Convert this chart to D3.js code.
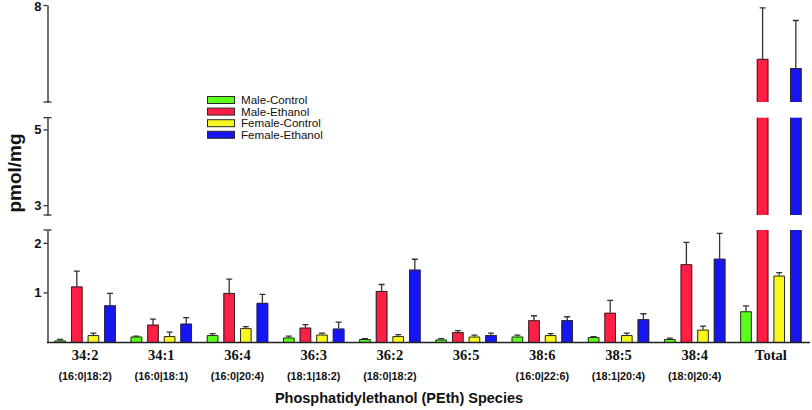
<!DOCTYPE html>
<html><head><meta charset="utf-8">
<script src="https://cdn.jsdelivr.net/npm/d3@7"></script>
<style>body{margin:0;background:#fff}svg{display:block}</style>
</head><body><svg id="c" width="812" height="410"></svg>
<script>
const categories = ["34:2","34:1","36:4","36:3","36:2","36:5","38:6","38:5","38:4","Total"];
const subLabels = ["(16:0|18:2)","(16:0|18:1)","(16:0|20:4)","(18:1|18:2)","(18:0|18:2)","","(16:0|22:6)","(18:1|20:4)","(18:0|20:4)",""];
const seriesNames = ["Male-Control","Male-Ethanol","Female-Control","Female-Ethanol"];
const maleControl = [0.03,0.11,0.14,0.09,0.06,0.05,0.11,0.10,0.06,0.62];
const maleControlSem = [0.02,0.01,0.03,0.03,0.01,0.02,0.03,0.01,0.02,0.11];
const maleEthanol = [1.12,0.35,0.99,0.29,1.03,0.20,0.44,0.59,1.57,6.89];
const maleEthanolSem = [0.31,0.11,0.28,0.06,0.13,0.03,0.09,0.25,0.44,1.05];
const femaleControl = [0.14,0.12,0.28,0.15,0.12,0.11,0.14,0.14,0.25,1.34];
const femaleControlSem = [0.04,0.08,0.03,0.03,0.03,0.03,0.03,0.04,0.07,0.06];
const femaleEthanol = [0.74,0.37,0.79,0.27,1.46,0.14,0.44,0.46,1.68,6.70];
const femaleEthanolSem = [0.24,0.12,0.17,0.13,0.21,0.04,0.07,0.11,0.51,0.98];
const colors = ["#5cff1c","#ff1f44","#f8f820","#1616f5"];
const yTicksTop = [8], yTicksMid = [3,5], yTicksBot = [1,2];

const values = [maleControl, maleEthanol, femaleControl, femaleEthanol];
const sems = [maleControlSem, maleEthanolSem, femaleControlSem, femaleEthanolSem];

const svg = d3.select("#c");
const axisX = 47.5, baseY = 342;
const x0 = d3.scaleBand().domain(categories).range([47, 809]).paddingInner(0.15).paddingOuter(0.075);
const x1 = d3.scaleBand().domain(seriesNames).range([0, x0.bandwidth()]).paddingInner(0.3).paddingOuter(0.1);

const segs = [
  {s: d3.scaleLinear().domain([0, 2.26]).range([baseY, 230]), ticks: yTicksBot},
  {s: d3.scaleLinear().domain([2.74, 5.31]).range([215, 117.7]), ticks: yTicksMid},
  {s: d3.scaleLinear().domain([6, 8]).range([102, 5]), ticks: yTicksTop}
];

// bars
const data = [];
categories.forEach((c, i) => seriesNames.forEach((n, j) => data.push({c, n, j, v: values[j][i], e: sems[j][i]})));
const g = svg.append("g");
data.forEach(d => {
  const bx = x0(d.c) + x1(d.n), bw = x1.bandwidth();
  segs.forEach(seg => {
    const [d0, d1] = seg.s.domain();
    if (d.v <= d0) return;
    const topIn = d.v <= d1;
    const yTop = seg.s(Math.min(d.v, d1)), yBot = seg.s(d0);
    g.append("rect").attr("x", bx).attr("y", yTop).attr("width", bw).attr("height", yBot - yTop)
      .attr("fill", colors[d.j]);
    let p = `M${bx+0.5},${yBot}V${yTop+ (topIn?0.5:0)}`;
    p += topIn ? `H${bx+bw-0.5}` : `M${bx+bw-0.5},${yTop}`;
    p += `V${yBot}`;
    g.append("path").attr("d", p).attr("fill", "none").attr("stroke", "#2a2a2a").attr("stroke-width", 1);
    if (topIn) {
      const ye = seg.s(d.v + d.e), cx = bx + bw / 2;
      g.append("path").attr("d", `M${cx},${yTop}V${ye}M${cx-3},${ye}H${cx+3}`)
        .attr("fill", "none").attr("stroke", "#333").attr("stroke-width", 1.3);
    }
  });
});

// y axis segments
segs.forEach((seg, k) => {
  const ax = svg.append("g").attr("transform", `translate(${axisX},0)`)
    .call(d3.axisLeft(seg.s).tickValues(seg.ticks).tickSize(4).tickSizeOuter(0).tickFormat(d3.format("d")));
  ax.select(".domain").attr("stroke", "#222").attr("stroke-width", 1.3);
  ax.selectAll(".tick line").attr("stroke", "#222").attr("stroke-width", 1.2);
  ax.selectAll(".tick text").attr("font-family", "Liberation Sans, Arial, sans-serif")
    .attr("font-weight", "bold").attr("font-size", 13).attr("fill", "#111").attr("x", -6)
    .attr("dy", d => d === 8 ? "0.45em" : "0.32em");
  const r = seg.s.range();
  const caps = k === 0 ? [r[1]] : k === 1 ? [r[0], r[1]] : [r[0]];
  caps.forEach(y => ax.append("line").attr("x1", -4).attr("x2", 4).attr("y1", y).attr("y2", y)
    .attr("stroke", "#222").attr("stroke-width", 1.2));
});

// x axis
const xa = svg.append("g").attr("transform", `translate(0,${baseY})`)
  .call(d3.axisBottom(x0).tickSize(0).tickSizeOuter(0));
xa.select(".domain").attr("stroke", "#222").attr("stroke-width", 1.5).attr("d", `M47,0.5H810`);
xa.selectAll(".tick text").attr("font-family", "Liberation Serif, Times New Roman, serif")
  .attr("font-weight", "bold").attr("font-size", 14.5).attr("fill", "#111").attr("y", 8);
xa.selectAll(".tick").append("text").text((d, i) => subLabels[i])
  .attr("y", 38).attr("fill", "#111").attr("font-family", "Liberation Sans, Arial, sans-serif")
  .attr("font-weight", "bold").attr("font-size", 10.8).attr("text-anchor", "middle");

// titles
svg.append("text").attr("x", 399).attr("y", 403).attr("text-anchor", "middle")
  .attr("font-family", "Liberation Sans, Arial, sans-serif").attr("font-weight", "bold").attr("font-size", 14.5)
  .attr("fill", "#111").text("Phosphatidylethanol (PEth) Species");
svg.append("text").attr("transform", "translate(21,173) rotate(-90)").attr("text-anchor", "middle")
  .attr("font-family", "Liberation Sans, Arial, sans-serif").attr("font-weight", "bold").attr("font-size", 19)
  .attr("fill", "#111").text("pmol/mg");

// legend
const leg = svg.append("g");
seriesNames.forEach((n, i) => {
  const y = 100 + i * 11.6;
  leg.append("rect").attr("x", 207.5).attr("y", y - 3.5).attr("width", 27).attr("height", 7)
    .attr("fill", colors[i]).attr("stroke", "#2a2a2a").attr("stroke-width", 1);
  leg.append("text").attr("x", 241).attr("y", y).attr("dy", "0.35em")
    .attr("font-family", "Liberation Sans, Arial, sans-serif").attr("font-size", 11.6).attr("fill", "#111").text(n);
});
</script></body></html>
